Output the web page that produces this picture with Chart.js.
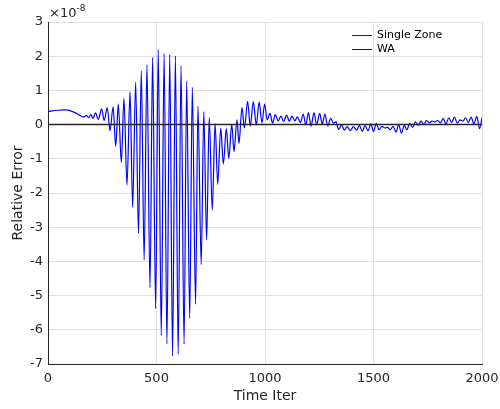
<!DOCTYPE html>
<html>
<head>
<meta charset="utf-8">
<script src="https://cdn.jsdelivr.net/npm/chart.js@4"></script>
<style>
  html, body { margin: 0; padding: 0; background: #fff; }
  #wrap { width: 500px; height: 409px; }
</style>
</head>
<body>
<div id="wrap"><canvas id="errChart" width="500" height="409"></canvas></div>
<script>
// values are in units of 1e-8
const xTicks = [0, 500, 1000, 1500, 2000];
const yTicks = [-7, -6, -5, -4, -3, -2, -1, 0, 1, 2, 3];

const singleZoneIter = [0, 2000];
const singleZoneErr = [0, 0];

// WA curve (peaks and troughs)
const waIter = [
  0, 18, 46, 78, 101, 124, 147, 164, 177, 187, 198, 207, 219, 232, 247, 259, 273, 286,
  300, 312, 324, 338, 350, 364, 378, 390, 404, 417, 430, 443, 456, 470, 482, 496,
  508, 522, 535, 548, 561, 574, 587, 600, 613, 627, 639, 653, 665, 680, 691, 706,
  718, 731, 743, 757, 770, 782, 796, 808, 822, 833, 847, 857, 871, 880, 894, 905,
  920, 932, 946, 960, 973, 986, 998, 1010, 1023, 1035, 1047, 1061, 1073, 1086, 1100, 1112,
  1124, 1138, 1149, 1163, 1176, 1188, 1200, 1212, 1226, 1238, 1252, 1264, 1276, 1289, 1303, 1315,
  1327, 1339, 1353, 1365, 1379, 1393, 1407, 1423, 1435, 1448, 1461, 1475, 1488, 1500, 1513, 1525,
  1539, 1552, 1565, 1577, 1590, 1604, 1616, 1629, 1642, 1654, 1667, 1680, 1693, 1705, 1719, 1732,
  1744, 1757, 1770, 1782, 1795, 1808, 1821, 1834, 1847, 1860, 1873, 1886, 1899, 1912, 1924, 1937,
  1950, 1963, 1976, 1989, 2000
];
const waErr = [
  0.38, 0.40, 0.42, 0.43, 0.41, 0.35, 0.27, 0.22, 0.27, 0.20, 0.29, 0.18, 0.34, 0.15, 0.46, 0.12, 0.50, -0.18,
  0.52, -0.63, 0.60, -1.11, 0.77, -1.77, 0.97, -2.42, 1.24, -3.18, 1.57, -3.96, 1.75, -4.77, 1.97, -5.38,
  2.19, -6.16, 2.08, -6.41, 2.05, -6.77, 2.01, -6.71, 1.72, -6.42, 1.27, -5.66, 1.09, -5.25, 0.54, -4.09,
  0.38, -3.37, 0.21, -2.50, 0.03, -1.75, -0.10, -1.15, -0.12, -0.99, 0.01, -0.79, 0.14, -0.55, 0.50, -0.10,
  0.68, -0.04, 0.67, -0.01, 0.66, 0.05, 0.60, 0.14, 0.33, 0.04, 0.29, 0.11, 0.25, 0.09, 0.28, 0.09,
  0.25, 0.11, 0.23, 0.06, 0.31, -0.01, 0.35, -0.04, 0.35, -0.01, 0.33, 0.01, 0.31, -0.04, 0.18, 0.04,
  0.08, -0.14, -0.01, -0.16, -0.06, -0.18, -0.06, -0.16, -0.02, -0.20, -0.03, -0.18, 0.02, -0.20, 0.04, -0.15,
  -0.05, -0.10, -0.08, -0.15, -0.05, -0.22, 0.00, -0.25, -0.02, -0.15, 0.04, -0.08, 0.08, -0.02, 0.10, 0.00,
  0.12, 0.05, 0.10, 0.08, 0.12, 0.05, 0.18, 0.02, 0.20, 0.06, 0.22, 0.04, 0.14, 0.10, 0.20, 0.06,
  0.22, 0.02, 0.24, -0.12, 0.20
];

const legendLabels = ['Single Zone', 'WA'];
const seriesColors = ['#262626', '#0000ff'];
const exponentLabel = '-8';

const textColor = '#262626';
const gridColor = '#dfdfdf';
const fontFamily = '"DejaVu Sans", sans-serif';

function toPoints(xs, ys) {
  return xs.map((x, i) => ({ x: x, y: ys[i] }));
}

// legend + exponent label, MATLAB style
const decorPlugin = {
  id: 'decor',
  afterDraw(chart) {
    const ctx = chart.ctx;
    const area = chart.chartArea;
    ctx.save();
    // exponent
    ctx.fillStyle = textColor;
    ctx.textBaseline = 'alphabetic';
    ctx.textAlign = 'left';
    ctx.font = '13px ' + fontFamily;
    ctx.fillText('\u00d710', area.left + 1, area.top - 5);
    const w = ctx.measureText('\u00d710').width;
    ctx.font = '9px ' + fontFamily;
    ctx.fillText(exponentLabel, area.left + 1 + w, area.top - 11);

    // legend
    const lx = area.right - 130;
    let ly = area.top + 13;
    ctx.font = '11px ' + fontFamily;
    ctx.textBaseline = 'middle';
    legendLabels.forEach((lbl, i) => {
      ctx.strokeStyle = seriesColors[i];
      ctx.lineWidth = 1;
      ctx.beginPath();
      ctx.moveTo(lx, ly + 0.5);
      ctx.lineTo(lx + 20, ly + 0.5);
      ctx.stroke();
      ctx.fillStyle = '#000';
      ctx.fillText(lbl, lx + 25, ly);
      ly += 14;
    });
    ctx.restore();
  }
};

new Chart(document.getElementById('errChart'), {
  type: 'line',
  data: {
    datasets: [
      {
        label: legendLabels[0],
        data: toPoints(singleZoneIter, singleZoneErr),
        borderColor: seriesColors[0],
        borderWidth: 1.5,
        pointRadius: 0
      },
      {
        label: legendLabels[1],
        data: toPoints(waIter, waErr),
        borderColor: seriesColors[1],
        borderWidth: 1.2,
        pointRadius: 0,
        cubicInterpolationMode: 'monotone'
      }
    ]
  },
  options: {
    responsive: false,
    animation: false,
    events: [],
    layout: {
      padding: { top: 22, right: 18, left: 0, bottom: 0 }
    },
    plugins: {
      legend: { display: false },
      tooltip: { enabled: false }
    },
    scales: {
      x: {
        type: 'linear',
        min: 0,
        max: 2000,
        afterBuildTicks: function(scale) {
          scale.ticks = xTicks.map(v => ({ value: v }));
        },
        afterFit: function(scale) {
          scale.height = 45;
          scale.paddingLeft = 0;
          scale.paddingRight = 0;
        },
        grid: { color: gridColor, drawTicks: false },
        border: { display: true, color: textColor, width: 1 },
        ticks: {
          color: textColor,
          padding: 7,
          maxRotation: 0,
          font: { family: fontFamily, size: 13 },
          callback: function(value) {
            return String(value);
          }
        },
        title: {
          display: true,
          text: 'Time Iter',
          color: textColor,
          padding: { top: 0, bottom: 4 },
          font: { family: fontFamily, size: 14 }
        }
      },
      y: {
        type: 'linear',
        min: -7,
        max: 3,
        afterBuildTicks: function(scale) {
          scale.ticks = yTicks.map(v => ({ value: v }));
        },
        afterFit: function(scale) {
          scale.width = 48;
          scale.paddingTop = 0;
          scale.paddingBottom = 0;
        },
        grid: { color: gridColor, drawTicks: false },
        border: { display: true, color: textColor, width: 1 },
        ticks: {
          color: textColor,
          padding: 5,
          font: { family: fontFamily, size: 13 },
          callback: function(value) {
            return String(value);
          }
        },
        title: {
          display: true,
          text: 'Relative Error',
          color: textColor,
          padding: { top: 10, bottom: 0 },
          font: { family: fontFamily, size: 14 }
        }
      }
    }
  },
  plugins: [decorPlugin]
});
</script>
</body>
</html>
